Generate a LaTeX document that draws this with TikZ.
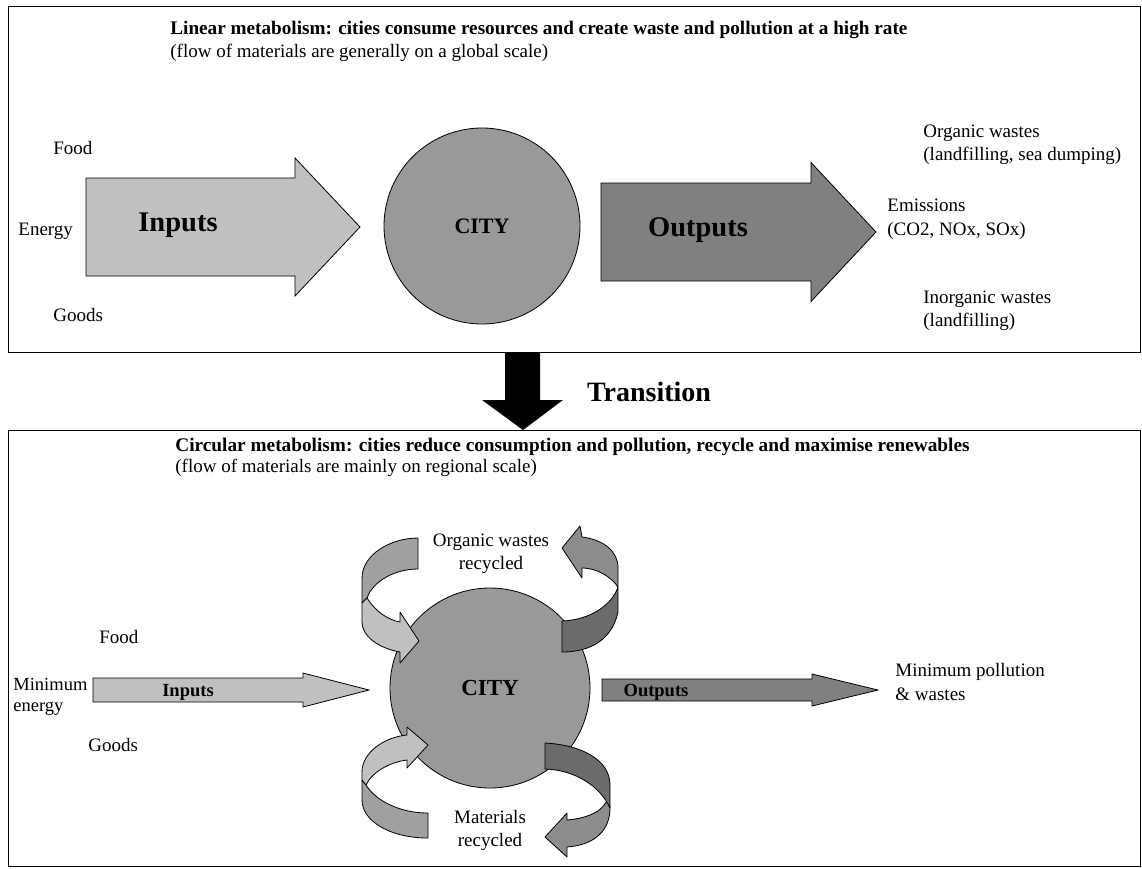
\documentclass[tikz,border=0pt]{standalone}
\usepackage{fontspec}
\setmainfont{Liberation Serif}
\usepackage{xcolor}
\definecolor{inlight}{HTML}{C0C0C0}
\definecolor{inback}{HTML}{A0A0A0}
\definecolor{citygray}{HTML}{999999}
\definecolor{outdark}{HTML}{808080}
\definecolor{ribdark}{HTML}{6B6B6B}
\definecolor{ribmid}{HTML}{8C8C8C}
\tikzset{
  lbl/.style={font=\fontsize{19}{23.5}\selectfont, inner sep=0pt, anchor=west, align=left},
  clbl/.style={font=\fontsize{19}{23}\selectfont, inner sep=0pt, align=center},
  ttl/.style={font=\bfseries\fontsize{#1}{#1}\selectfont, inner sep=0pt, anchor=west},
  big/.style={font=\bfseries\fontsize{#1}{#1}\selectfont, inner sep=0pt},
  city/.style={circle, draw, fill=citygray, inner sep=0pt, minimum size=#1},
  ribbon/.style={draw, line width=0.8pt, line join=round, fill=#1}
}
\usetikzlibrary{positioning}

\begin{document}
\begin{tikzpicture}[x=1pt, y=-1pt, line width=0.8pt]
  % x0, style, head start, tip, y centre, half shaft, half head
  \def\blockarrow#1[#2]#3#4#5#6#7{%
    \draw[#2, line join=miter] (#1,#5-#6) -- (#3,#5-#6) -- (#3,#5-#7) -- (#4,#5)
      -- (#3,#5+#7) -- (#3,#5+#6) -- (#1,#5+#6) -- cycle;
  }
  \useasboundingbox (0,0) rectangle (1142,868);

  % frames
  \draw (8,6) rectangle (1140,352);
  \draw (8,430) rectangle (1140,866);

  % ---- linear metabolism
  \node[ttl=19.2] (linttl) at (170,30) {Linear metabolism: cities consume resources and create waste and pollution at a high rate};
  \node[lbl] (linsub) at (170,53) {(flow of materials are generally on a global scale)};

  \node[lbl] (food) at (53,148) {Food};
  \node[lbl] (energy) at (18,231) {Energy};
  \node[lbl] (goods) at (53,315) {Goods};

  \blockarrow{86}[fill=inlight]{295}{360}{227}{49}{69}
  \blockarrow{601}[fill=outdark]{811}{876}{232}{49}{69.5}
  \node[big=28.5] (inp) at (178,225) {Inputs};
  \node[big=28.5] (outp) at (698,230) {Outputs};

  \node[city=196pt, font=\bfseries\fontsize{22}{22}\selectfont] (cityA) at (482,226) {CITY};

  \node[lbl] (orgw) at (923,145) {Organic wastes\\(landfilling, sea dumping)};
  \node[lbl] (emis) at (887,219) {Emissions\\(CO2, NOx, SOx)};
  \node[lbl] (inorg) at (923,311) {Inorganic wastes\\(landfilling)};

  % ---- transition
  \fill (505,353) -- (540,353) -- (540,400) -- (563,400) -- (523,430)
    -- (482,400) -- (505,400) -- cycle;
  \node[big=28] (trans) at (649,392) {Transition};

  % ---- circular metabolism
  \node[ttl=19.3] (cirttl) at (175,447) {Circular metabolism: cities reduce consumption and pollution, recycle and maximise renewables};
  \node[lbl] (cirsub) at (175,468) {(flow of materials are mainly on regional scale)};

  \node[lbl] (food2) at (99,637) {Food};
  \node[lbl, font=\fontsize{18.5}{21}\selectfont] (energy2) at (13,697) {Minimum\\energy};
  \node[lbl] (goods2) at (88,745) {Goods};

  \blockarrow{93}[fill=inlight]{303}{369}{690}{12}{17}
  \blockarrow{602}[fill=outdark]{812}{878}{690}{11}{16}
  \node[big=18.5] (inp2) at (188,692) {Inputs};
  \node[big=18.5] (outp2) at (656,692) {Outputs};

  \node[city=200pt, font=\bfseries\fontsize{23}{23}\selectfont] (cityB) at (490,688) {CITY};

  % top left ribbon (back, then front)
  \draw[ribbon=inback] (418,538) -- (418,569) .. controls (395,569) and (373,581) .. (367,598)
    -- (362,603) -- (362,578) .. controls (362,555) and (390,538) .. (418,538) -- cycle;
  \draw[ribbon=inlight] (367,598) .. controls (375,611) and (388,620) .. (400,622)
    -- (400,612) -- (419,641) -- (400,663) -- (400,652)
    .. controls (378,648) and (362,636) .. (362,622) -- (362,603) -- cycle;

  % top right ribbon
  \draw[ribbon=ribmid] (582,537) .. controls (605,540) and (618,552) .. (618,568)
    -- (618,587) .. controls (612,578) and (598,568) .. (582,568)
    -- (582,578) -- (562,548) -- (580,526) -- cycle;
  \draw[ribbon=ribdark] (562,621) .. controls (590,620) and (612,605) .. (618,587)
    -- (618,612) .. controls (612,640) and (590,652) .. (562,652) -- cycle;

  % bottom left ribbon
  \draw[ribbon=inback] (366,785) .. controls (376,801) and (400,813) .. (428,813)
    -- (428,838) .. controls (390,838) and (362,821) .. (362,800) -- (362,780) -- cycle;
  \draw[ribbon=inlight] (407,735) -- (407,727) -- (428,745) -- (407,768) -- (407,760)
    .. controls (390,762) and (372,772) .. (366,785) -- (362,780) -- (362,772)
    .. controls (362,752) and (385,737) .. (407,735) -- cycle;

  % bottom right ribbon
  \draw[ribbon=ribmid] (608,797) .. controls (605,810) and (590,818) .. (567,820)
    -- (567,813) -- (545,837) -- (567,857) -- (567,847)
    .. controls (595,845) and (610,830) .. (610,808) -- cycle;
  \draw[ribbon=ribdark] (545,743) .. controls (582,745) and (610,760) .. (610,785)
    -- (610,808) .. controls (600,786) and (575,770) .. (545,769) -- cycle;

  \node[clbl] (orgrec) at (491,554) {Organic wastes\\recycled};
  \node[clbl] (matrec) at (490,830) {Materials\\recycled};
  \node[lbl] (minpol) at (895,682) {Minimum pollution\\\& wastes};
\end{tikzpicture}
\end{document}
